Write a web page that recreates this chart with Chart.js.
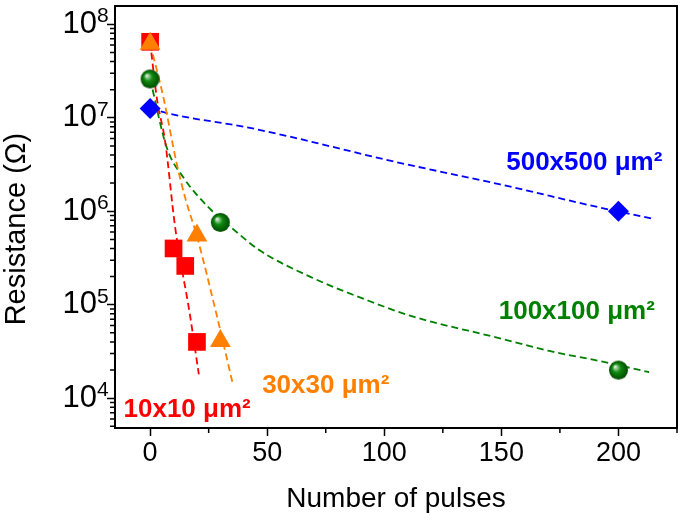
<!DOCTYPE html>
<html>
<head>
<meta charset="utf-8">
<script src="https://cdn.jsdelivr.net/npm/chart.js@4.4.1/dist/chart.umd.min.js"></script>
<style>
html,body{margin:0;padding:0;background:#fff;}
canvas{display:block;}
</style>
</head>
<body>
<canvas id="c" width="685" height="522"></canvas>
<script>
// ---- data ----
const pulses10 = [0, 10, 15, 20];
const res10    = [6.5e7, 4.0e5, 2.6e5, 4.0e4];
const pulses30 = [0, 20, 30];
const res30    = [6.2e7, 5.5e5, 4.1e4];
const pulses100 = [0, 30, 200];
const res100    = [2.6e7, 7.6e5, 2.0e4];
const pulses500 = [0, 200];
const res500    = [1.26e7, 1.0e6];

// dashed fit curves
const fit10X = [0, 2.9, 6.4, 10.7, 17, 20.8];
const fit10Y = [6.5e7, 1.6e7, 5.6e6, 6.7e5, 7.8e4, 1.8e4];
const fit30X = [0, 5.7, 11.4, 15.3, 19.9, 28.4, 35.2];
const fit30Y = [6.2e7, 1.64e7, 3.2e6, 1.3e6, 5.5e5, 7.8e4, 1.46e4];
const fit100X = [0, 7.1, 14.2, 25.6, 36.2, 46.9, 68.2, 93.8, 112, 149, 170.5, 191.8, 213.1];
const fit100Y = [2.6e7, 4.8e6, 2.3e6, 1.06e6, 6.2e5, 3.8e5, 2.0e5, 1.09e5, 7.5e4, 4.4e4, 3.2e4, 2.5e4, 1.9e4];
const fit500X = [0, 8.5, 42.6, 106.5, 149, 191.8, 214.8];
const fit500Y = [1.26e7, 1.1e7, 7.8e6, 3.3e6, 1.95e6, 1.1e6, 8.3e5];

// tick values
const xMajorTicks = [0, 50, 100, 150, 200];
const xMinorTicks = [25, 75, 125, 175, 225];
const yMajorTicks = [1e4, 1e5, 1e6, 1e7, 1e8];

// series names (annotation texts)
const seriesNames = ['10x10 μm²', '30x30 μm²', '100x100 μm²', '500x500 μm²'];

// ---- styling / helpers ----
const RED = '#FF0000', ORANGE = '#FF8000', GREEN = '#008000', BLUE = '#0000FF';
const FONT = "'Liberation Sans', Arial, sans-serif";

function pts(xs, ys) { return xs.map((x, i) => ({x: x, y: ys[i]})); }

function sphere(r) {
  const s = 2 * r + 2;
  const c = document.createElement('canvas');
  c.width = s; c.height = s;
  const g = c.getContext('2d');
  const cx = s / 2, cy = s / 2;
  const grad = g.createRadialGradient(cx - r * 0.38, cy - r * 0.38, 0, cx, cy, r);
  grad.addColorStop(0, '#ffffff');
  grad.addColorStop(0.2, '#8cc88c');
  grad.addColorStop(0.45, '#108a10');
  grad.addColorStop(1, '#004a00');
  g.fillStyle = grad;
  g.beginPath(); g.arc(cx, cy, r, 0, Math.PI * 2); g.fill();
  return c;
}
const sphereImg = sphere(9.5);

// annotation anchors in data coordinates
const annot = [
  {text: seriesNames[0], x: 15.8, y: 7.5e3, color: RED},
  {text: seriesNames[1], x: 75, y: 1.34e4, color: ORANGE},
  {text: seriesNames[2], x: 182.2, y: 8.4e4, color: GREEN},
  {text: seriesNames[3], x: 185.4, y: 3.3e6, color: BLUE}
];

const framePlugin = {
  id: 'frame',
  afterDatasetsDraw(chart) {
    const {ctx, chartArea: a, scales: {x, y}} = chart;
    ctx.save();
    // annotations
    ctx.font = "bold 26px " + FONT;
    ctx.textAlign = 'center';
    ctx.textBaseline = 'middle';
    annot.forEach(t => {
      ctx.fillStyle = t.color;
      ctx.fillText(t.text, x.getPixelForValue(t.x), y.getPixelForValue(t.y));
    });
    // exponents of the y tick labels (10^n)
    ctx.fillStyle = '#000';
    ctx.font = "21px " + FONT;
    ctx.textAlign = 'left';
    ctx.textBaseline = 'middle';
    yMajorTicks.forEach(v => {
      const py = y.getPixelForValue(v);
      ctx.fillText(String(Math.round(Math.log10(v))), a.left - 18, py - 8);
    });
    // frame
    ctx.strokeStyle = '#000';
    ctx.lineWidth = 2;
    ctx.strokeRect(a.left, a.top, a.right - a.left, a.bottom - a.top);
    // minor ticks
    ctx.lineWidth = 1.5;
    ctx.beginPath();
    xMinorTicks.forEach(v => {
      const px = x.getPixelForValue(v);
      if (px >= a.left - 0.5 && px <= a.right + 0.5) {
        ctx.moveTo(px, a.bottom); ctx.lineTo(px, a.bottom + 5);
      }
    });
    for (let d = 1e3; d <= 1e8; d *= 10) {
      for (let k = 2; k <= 9; k++) {
        const v = d * k;
        if (v < y.min || v > y.max) continue;
        const py = y.getPixelForValue(v);
        ctx.moveTo(a.left - 5, py); ctx.lineTo(a.left, py);
      }
    }
    ctx.stroke();
    ctx.restore();
  }
};

const lineDs = (label, xs, ys, color) => ({
  label: label, data: pts(xs, ys), showLine: true, borderColor: color,
  borderWidth: 1.8, borderDash: [7, 4], pointRadius: 0, fill: false,
  cubicInterpolationMode: 'monotone', order: 5
});

new Chart(document.getElementById('c'), {
  type: 'scatter',
  data: {
    datasets: [
      lineDs('fit 10x10', fit10X, fit10Y, RED),
      lineDs('fit 30x30', fit30X, fit30Y, ORANGE),
      lineDs('fit 100x100', fit100X, fit100Y, GREEN),
      lineDs('fit 500x500', fit500X, fit500Y, BLUE),
      {label: seriesNames[3], data: pts(pulses500, res500), pointStyle: 'rectRot', pointRadius: 10.5,
       backgroundColor: BLUE, borderColor: BLUE, borderWidth: 0, order: 1},
      {label: seriesNames[2], data: pts(pulses100, res100), pointStyle: sphereImg, pointRadius: 9.5,
       backgroundColor: GREEN, borderColor: GREEN, order: 2},
      {label: seriesNames[0], data: pts(pulses10, res10), pointStyle: 'rect', pointRadius: 12.5,
       backgroundColor: RED, borderColor: RED, borderWidth: 0, order: 3},
      {label: seriesNames[1], data: pts(pulses30, res30), pointStyle: 'triangle', pointRadius: 12,
       backgroundColor: ORANGE, borderColor: ORANGE, borderWidth: 0, order: 0}
    ]
  },
  options: {
    responsive: false,
    animation: false,
    devicePixelRatio: 1,
    layout: {autoPadding: false, padding: {top: 6, right: 8, left: 0, bottom: 0}},
    plugins: {legend: {display: false}, tooltip: {enabled: false}},
    scales: {
      x: {
        type: 'linear', min: -15, max: 225,
        afterBuildTicks: s => { s.ticks = xMajorTicks.map(v => ({value: v})); },
        afterFit: s => { s.height = 94; s.paddingLeft = 0; s.paddingRight = 0; s.paddingTop = 0; s.paddingBottom = 0; },
        ticks: {font: {size: 27, family: FONT}, color: '#000', padding: 1, maxRotation: 0,
                callback: v => String(v)},
        grid: {drawOnChartArea: false, drawTicks: true, tickLength: 8, tickColor: '#000', tickWidth: 1.5},
        border: {display: false},
        title: {display: true, text: 'Number of pulses', color: '#000',
                font: {size: 28, family: FONT}, padding: {top: 0, bottom: 6}}
      },
      y: {
        type: 'logarithmic', min: 4800, max: 1.57e8,
        afterBuildTicks: s => { s.ticks = yMajorTicks.map(v => ({value: v})); },
        afterFit: s => { s.width = 115; s.paddingTop = 0; s.paddingBottom = 0; s.paddingLeft = 0; s.paddingRight = 0; },
        ticks: {font: {size: 31, family: FONT}, color: '#000', padding: 10,
                callback: v => '10'},
        grid: {drawOnChartArea: false, drawTicks: true, tickLength: 8, tickColor: '#000', tickWidth: 1.5},
        border: {display: false},
        title: {display: true, text: 'Resistance (Ω)\u00A0\u00A0\u00A0', color: '#000',
                font: {size: 29, family: FONT}, padding: {top: 0, bottom: 0}}
      }
    }
  },
  plugins: [framePlugin]
});
</script>
</body>
</html>
